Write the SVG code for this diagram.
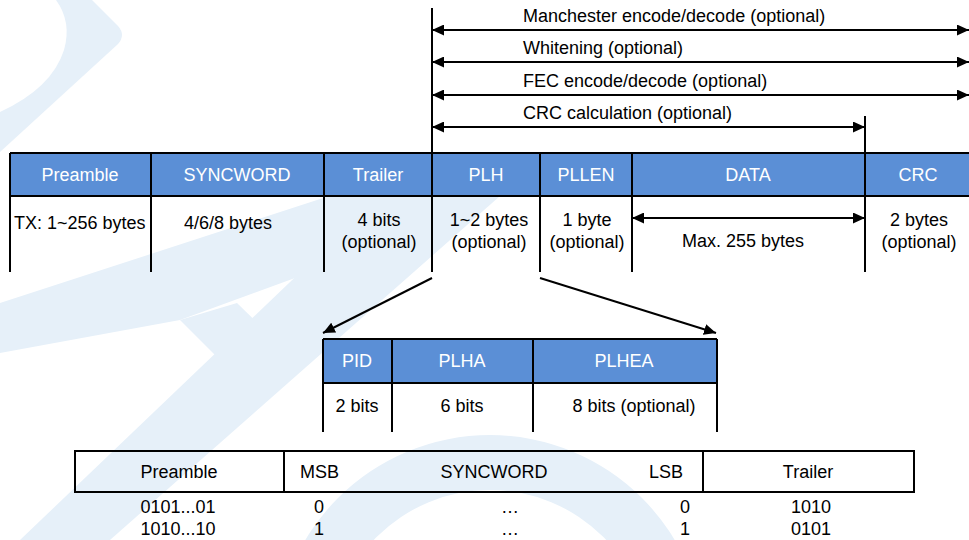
<svg xmlns="http://www.w3.org/2000/svg" width="969" height="540" viewBox="0 0 969 540">
<style>
.bg{fill:#fff}
.wm{fill:#e6f0f9}
.hd{fill:#5b8fd6}
.ln{stroke:#000;stroke-width:2;fill:none}
.ar{stroke:#000;stroke-width:2;fill:none;marker-start:url(#ah);marker-end:url(#ah)}
.ar1{stroke:#000;stroke-width:2;fill:none;marker-end:url(#ah)}
.t{font-family:"Liberation Sans",Arial,sans-serif;font-size:18px;fill:#000}
.w{fill:#fff}
.c{text-anchor:middle}
.e{text-anchor:end}
</style>
<defs>
<marker id="ah" viewBox="0 0 12 11" refX="12" refY="5.5" markerWidth="12" markerHeight="11" markerUnits="userSpaceOnUse" orient="auto-start-reverse"><path d="M0,0 L12,5.5 L0,11 Z" fill="#000"/></marker>
</defs>
<rect class="bg" x="0" y="0" width="969" height="540"/>
<g id="watermark">
<path class="wm" d="M56,0 L92,0 L118,26 Q126,35 118,44 L0,152 L0,112 Q52,88 64,50 Q72,22 56,0 Z"/>
<polygon class="wm" points="0,303 440,160 440,225 180,320 0,353"/>
<polygon class="wm" points="180,320 237,303 287,352 250,390"/>
<polygon class="wm" points="380,196 500,196 110,540 20,540"/>
<path class="wm" d="M275,650 A215,215 0 0 1 705,650 L650,650 A160,160 0 0 0 330,650 Z"/>
</g>
<g id="packet">
<rect class="hd" x="10" y="153" width="959" height="43"/>
<line class="ln" x1="10" y1="153" x2="969" y2="153"/>
<line class="ln" x1="10" y1="196" x2="969" y2="196"/>
<g id="f-preamble">
<line class="ln" x1="10" y1="153" x2="10" y2="272"/>
<text class="t w c" x="80" y="181">Preamble</text>
<text class="t" x="14" y="229">TX: 1~256 bytes</text>
</g>
<g id="f-syncword">
<line class="ln" x1="151" y1="153" x2="151" y2="272"/>
<text class="t w c" x="237" y="181">SYNCWORD</text>
<text class="t c" x="228" y="229">4/6/8 bytes</text>
</g>
<g id="f-trailer">
<line class="ln" x1="324" y1="153" x2="324" y2="272"/>
<text class="t w c" x="378" y="181">Trailer</text>
<text class="t c" x="379" y="226">4 bits</text>
<text class="t c" x="379" y="248">(optional)</text>
</g>
<g id="f-plh">
<text class="t w c" x="486" y="181">PLH</text>
<text class="t c" x="489" y="226">1~2 bytes</text>
<text class="t c" x="489" y="248">(optional)</text>
</g>
<g id="f-pllen">
<line class="ln" x1="540" y1="153" x2="540" y2="272"/>
<text class="t w c" x="586" y="181">PLLEN</text>
<text class="t c" x="587" y="226">1 byte</text>
<text class="t c" x="587" y="248">(optional)</text>
</g>
<g id="f-data">
<line class="ln" x1="632" y1="153" x2="632" y2="272"/>
<text class="t w c" x="748" y="181">DATA</text>
<text class="t c" x="743" y="247">Max. 255 bytes</text>
</g>
<g id="f-crc">
<text class="t w c" x="918" y="181">CRC</text>
<text class="t c" x="919" y="226">2 bytes</text>
<text class="t c" x="919" y="248">(optional)</text>
</g>
</g>
<g id="plh-detail">
<rect class="hd" x="323" y="339" width="394" height="44"/>
<line class="ln" x1="323" y1="339" x2="717" y2="339"/>
<line class="ln" x1="323" y1="383" x2="717" y2="383"/>
<g id="f-pid">
<line class="ln" x1="323" y1="339" x2="323" y2="432"/>
<text class="t w c" x="357" y="367">PID</text>
<text class="t c" x="357" y="412">2 bits</text>
</g>
<g id="f-plha">
<line class="ln" x1="392" y1="339" x2="392" y2="432"/>
<text class="t w c" x="462" y="367">PLHA</text>
<text class="t c" x="462" y="412">6 bits</text>
</g>
<g id="f-plhea">
<line class="ln" x1="533" y1="339" x2="533" y2="432"/>
<line class="ln" x1="717" y1="339" x2="717" y2="432"/>
<text class="t w c" x="624" y="367">PLHEA</text>
<text class="t c" x="634" y="412">8 bits (optional)</text>
</g>
</g>
<g id="bit-table">
<rect class="ln" x="75" y="451" width="839" height="41"/>
<line class="ln" x1="284" y1="451" x2="284" y2="492"/>
<line class="ln" x1="703" y1="451" x2="703" y2="492"/>
<g id="b-preamble">
<text class="t c" x="179" y="478">Preamble</text>
<text class="t c" x="178" y="513">0101...01</text>
<text class="t c" x="178" y="535">1010...10</text>
</g>
<g id="b-syncword">
<text class="t" x="300" y="478">MSB</text>
<text class="t c" x="494" y="478">SYNCWORD</text>
<text class="t e" x="683" y="478">LSB</text>
<text class="t c" x="319" y="513">0</text>
<text class="t c" x="319" y="535">1</text>
<text class="t c" x="510" y="513">…</text>
<text class="t c" x="510" y="535">…</text>
<text class="t c" x="685" y="513">0</text>
<text class="t c" x="685" y="535">1</text>
</g>
<g id="b-trailer">
<text class="t c" x="808" y="478">Trailer</text>
<text class="t c" x="811" y="513">1010</text>
<text class="t c" x="811" y="535">0101</text>
</g>
</g>
<g id="connectors">
<line class="ln" x1="432" y1="8" x2="432" y2="272"/>
<line class="ln" x1="865" y1="116" x2="865" y2="272"/>
<line class="ar" x1="432" y1="30" x2="969" y2="30"/>
<line class="ar" x1="432" y1="62" x2="969" y2="62"/>
<line class="ar" x1="432" y1="95" x2="969" y2="95"/>
<line class="ar" x1="432" y1="127" x2="865" y2="127"/>
<line class="ar" x1="632" y1="218" x2="865" y2="218"/>
<line class="ar1" x1="432" y1="278" x2="323" y2="333"/>
<line class="ar1" x1="540" y1="278" x2="716" y2="333"/>
<text class="t" x="523" y="22">Manchester encode/decode (optional)</text>
<text class="t" x="523" y="54">Whitening (optional)</text>
<text class="t" x="523" y="87">FEC encode/decode (optional)</text>
<text class="t" x="523" y="119">CRC calculation (optional)</text>
</g>
</svg>
